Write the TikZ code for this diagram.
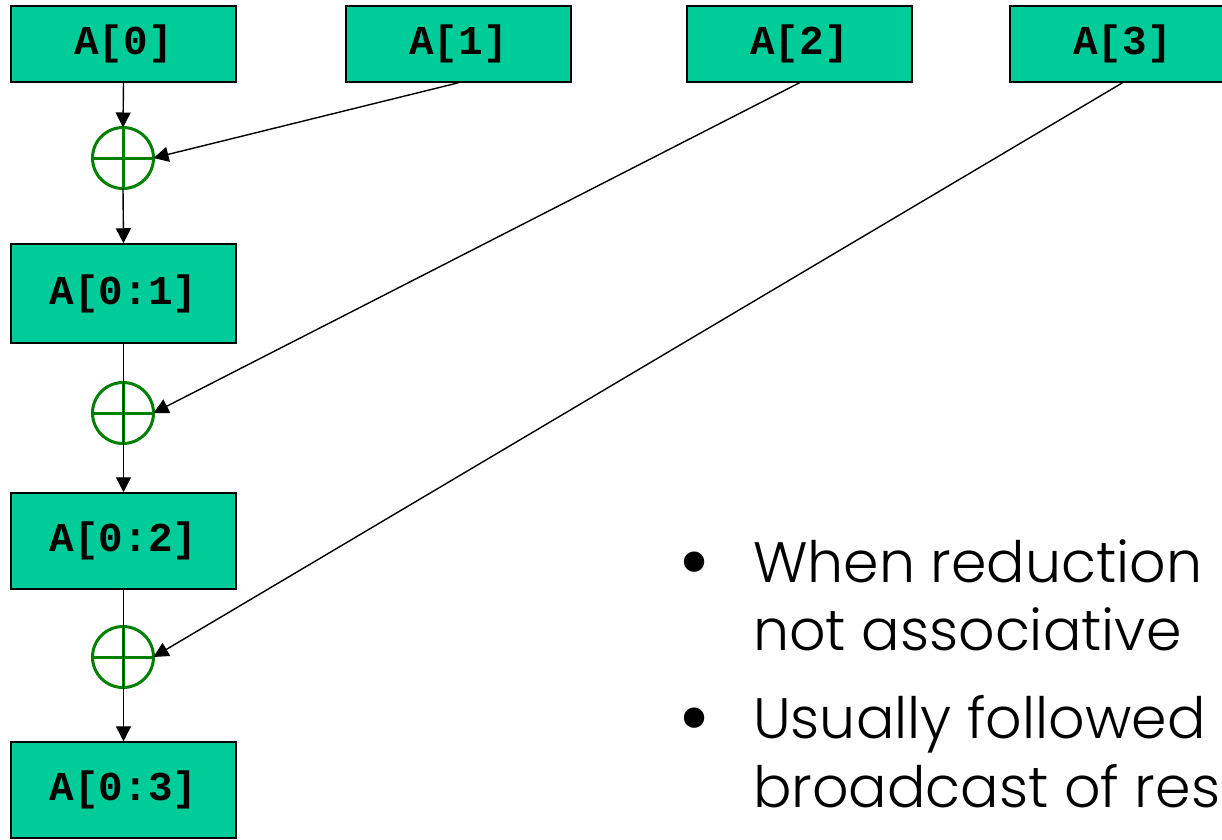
\documentclass[tikz,border=0pt]{standalone}
\usepackage{fontspec}
\IfFontExistsTF{Poppins Light}{\setmainfont{Poppins Light}}{\setmainfont{Poppins}}
\newfontfamily\boxfont{Liberation Mono}
\usetikzlibrary{arrows.meta}
\definecolor{boxfill}{RGB}{0,204,153}
\definecolor{opgreen}{RGB}{0,128,0}
\tikzset{
  cell/.style={draw=black, line width=1.5pt, fill=boxfill, minimum width=225pt, inner sep=0pt,
    font=\boxfont\bfseries\fontsize{41}{41}\selectfont},
  opnode/.style={circle, draw=opgreen, line width=3pt, minimum size=61pt, inner sep=0pt, outer sep=0pt},
  link/.style={line width=1.4pt, -{Triangle[length=15pt,width=15pt]}},
  bullettext/.style={anchor=base west, inner sep=0pt, font=\fontsize{57}{57}\selectfont},
  bulletmark/.style={inner sep=0pt, font=\fontsize{88}{88}\selectfont},
}
\begin{document}
\begin{tikzpicture}[x=1pt,y=-1pt]
\useasboundingbox (0,0) rectangle (1222,839);
\clip (0,0) rectangle (1222,839);
\node[cell, minimum height=76pt] (a0) at (123.5,44) {A[0]};
\node[cell, minimum height=76pt] (a1) at (458.5,44) {A[1]};
\node[cell, minimum height=76pt] (a2) at (799.5,44) {A[2]};
\node[cell, minimum height=76pt] (a3) at (1122.5,44) {A[3]};
\node[cell, minimum height=99pt] (a01) at (123.5,293.5) {A[0:1]};
\node[cell, minimum height=96pt] (a02) at (123.5,541) {A[0:2]};
\node[cell, minimum height=96pt] (a03) at (123.5,790) {A[0:3]};
\node[opnode] (c1) at (123,158) {};
\node[opnode] (c2) at (123,413) {};
\node[opnode] (c3) at (123,657) {};
\foreach \c in {c1,c2,c3}{
  \draw[opgreen, line width=3pt] (\c.north) -- (\c.south);
  \draw[opgreen, line width=3pt] (\c.west) -- (\c.east);
}
\draw[link] (a0.south) -- (c1.north);
\draw[link] (c1.south) -- (a01.north);
\draw[link] (a01.south) -- (a02.north);
\draw[link] (a02.south) -- (a03.north);
\draw[link] (a1.south) -- (c1.east);
\draw[link] (a2.south) -- (c2.east);
\draw[link] (a3.south) -- (c3.east);
\node[bulletmark] (b1) at (695,572) {•};
\node[bulletmark] (b2) at (695,728) {•};
\node[bullettext] (t1) at (753,582) {When reduction};
\node[bullettext] (t2) at (753,650) {not associative};
\node[bullettext] (t3) at (753,738) {Usually followed};
\node[bullettext] (t4) at (753,807) {broadcast of result};
\end{tikzpicture}
\end{document}
